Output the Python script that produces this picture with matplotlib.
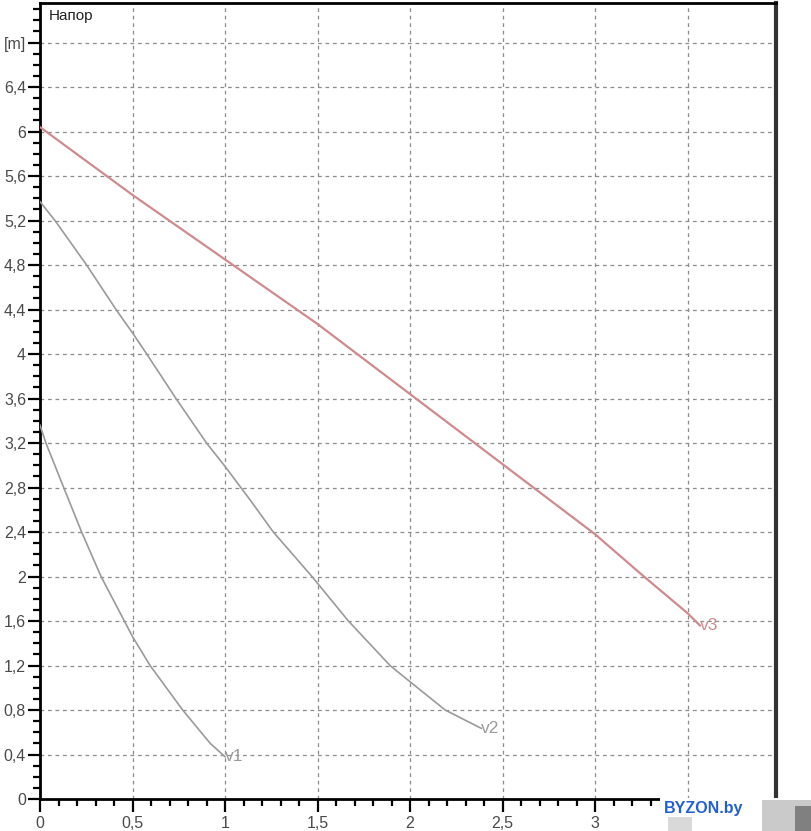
import matplotlib
matplotlib.use("Agg")
import matplotlib.pyplot as plt
from matplotlib.ticker import MultipleLocator, FixedLocator, FixedFormatter
from matplotlib.patches import Rectangle

plt.rcParams['font.family'] = ['Liberation Sans', 'DejaVu Sans']

# ---- data ----
v1_q = [0.0, 0.032, 0.128, 0.225, 0.33, 0.456, 0.5, 0.595, 0.771, 0.92, 1.0]
v1_h = [3.36, 3.2, 2.8, 2.4, 2.0, 1.6, 1.46, 1.2, 0.8, 0.5, 0.38]

v2_q = [0.0, 0.081, 0.252, 0.411, 0.5, 0.577, 0.735, 0.90, 1.0, 1.135, 1.261, 1.47, 1.667, 1.892, 2.0, 2.19, 2.385]
v2_h = [5.37, 5.2, 4.8, 4.4, 4.19, 4.0, 3.6, 3.2, 2.99, 2.69, 2.4, 2.0, 1.6, 1.2, 1.054, 0.8, 0.635]

v3_q = [0.0, 0.5, 1.0, 1.5, 2.0, 2.5, 3.0, 3.25, 3.5, 3.567]
v3_h = [6.04, 5.43, 4.85, 4.27, 3.64, 3.01, 2.38, 2.02, 1.67, 1.56]

curve_labels = ["v1", "v2", "v3"]

x_ticks = [0, 0.5, 1, 1.5, 2, 2.5, 3, 3.5]
x_tick_labels = ["0", "0,5", "1", "1,5", "2", "2,5", "3", ""]
y_ticks = [0, 0.4, 0.8, 1.2, 1.6, 2.0, 2.4, 2.8, 3.2, 3.6, 4.0, 4.4, 4.8, 5.2, 5.6, 6.0, 6.4, 6.8]
y_tick_labels = ["0", "0,4", "0,8", "1,2", "1,6", "2", "2,4", "2,8", "3,2", "3,6",
                 "4", "4,4", "4,8", "5,2", "5,6", "6", "6,4", "[m]"]
title_text = "Напор"
watermark = "BYZON.by"

# ---- figure ----
W, H = 812, 831
fig = plt.figure(figsize=(W / 100, H / 100), dpi=100)
ax = fig.add_axes([40 / W, 32 / H, 736 / W, 796.5 / H])
ax.set_xlim(0, 3.978)
ax.set_ylim(0, 7.16)

gray = "#9a9a9a"
red = "#cf8a8e"
ax.plot(v1_q, v1_h, color=gray, lw=1.2, zorder=3, solid_joinstyle='round')
ax.plot(v2_q, v2_h, color=gray, lw=1.2, zorder=3, solid_joinstyle='round')
ax.plot(v3_q, v3_h, color=red, lw=1.6, zorder=3, solid_joinstyle='round')

for q, h, lab, c in [(v1_q, v1_h, curve_labels[0], gray),
                     (v2_q, v2_h, curve_labels[1], gray),
                     (v3_q, v3_h, curve_labels[2], red)]:
    ax.text(q[-1], h[-1], lab, color=c, fontsize=12.5, ha='left', va='center', zorder=4)

ax.xaxis.set_major_locator(FixedLocator(x_ticks))
ax.xaxis.set_major_formatter(FixedFormatter(x_tick_labels))
ax.yaxis.set_major_locator(FixedLocator(y_ticks))
ax.yaxis.set_major_formatter(FixedFormatter(y_tick_labels))
ax.xaxis.set_minor_locator(MultipleLocator(0.1))
ax.yaxis.set_minor_locator(MultipleLocator(0.1))

ax.tick_params(which='major', direction='out', length=9, width=1.6, color='black',
               labelsize=11.5, labelcolor='#4a4a4a', pad=2)
ax.tick_params(which='minor', direction='out', length=5, width=1.6, color='black')
ax.tick_params(axis='y', which='major', pad=1)
ax.tick_params(axis='x', which='major', pad=3)

ax.grid(True, which='major', color='#8c8c8c', linestyle=(0, (3, 3)), linewidth=0.9)
ax.set_axisbelow(True)

for s in ['left', 'bottom', 'top']:
    ax.spines[s].set_linewidth(2)
    ax.spines[s].set_color('black')
ax.spines['right'].set_linewidth(3)
ax.spines['right'].set_color('#333333')

ax.text(0.012, 0.992, title_text, transform=ax.transAxes, ha='left', va='top',
        fontsize=11, color='#222222')

# watermark area
fig.patches.append(Rectangle((660 / W, 0), (W - 660) / W, 33.5 / H, transform=fig.transFigure,
                             facecolor='white', edgecolor='none', zorder=10))
fig.patches.append(Rectangle((668 / W, 0), 24 / W, 14 / H, transform=fig.transFigure,
                             facecolor='#d0d0d0', edgecolor='none', alpha=0.8, zorder=11))
fig.patches.append(Rectangle((762 / W, 0), 50 / W, 31 / H, transform=fig.transFigure,
                             facecolor='#bdbdbd', edgecolor='none', alpha=0.8, zorder=11))
fig.patches.append(Rectangle((795 / W, 0), 17 / W, 25 / H, transform=fig.transFigure,
                             facecolor='#6e6e6e', edgecolor='none', alpha=0.8, zorder=11))
fig.text(664 / W, 1 - 808 / H, watermark, color='#2160d4', fontsize=11.5, fontweight='bold',
         ha='left', va='center', zorder=12)

fig.savefig("out.png", dpi=100, facecolor='white')
